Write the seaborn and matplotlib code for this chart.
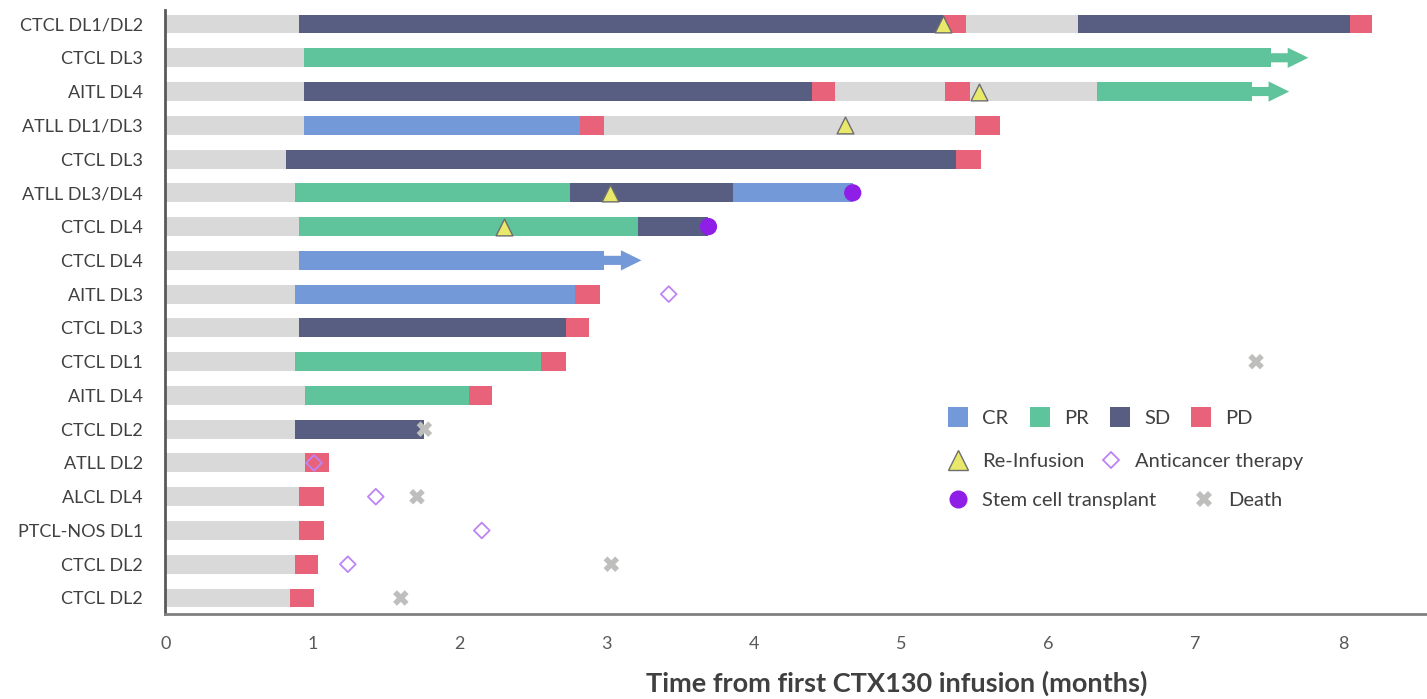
import matplotlib
matplotlib.use("Agg")
import matplotlib.pyplot as plt
from matplotlib.lines import Line2D
import pandas as pd
import seaborn as sns

# ---- data -------------------------------------------------------------
patients = [
    "CTCL DL1/DL2", "CTCL DL3", "AITL DL4", "ATLL DL1/DL3", "CTCL DL3",
    "ATLL DL3/DL4", "CTCL DL4", "CTCL DL4", "AITL DL3", "CTCL DL3",
    "CTCL DL1", "AITL DL4", "CTCL DL2", "ATLL DL2", "ALCL DL4",
    "PTCL-NOS DL1", "CTCL DL2", "CTCL DL2",
]

# response state of each interval ("NE" = not yet assessed / off response)
states = [
    ["NE", "SD", "PD", "NE", "SD", "PD"],
    ["NE", "PR"],
    ["NE", "SD", "PD", "NE", "PD", "NE", "PR"],
    ["NE", "CR", "PD", "NE", "PD"],
    ["NE", "SD", "PD"],
    ["NE", "PR", "SD", "CR"],
    ["NE", "PR", "SD"],
    ["NE", "CR"],
    ["NE", "CR", "PD"],
    ["NE", "SD", "PD"],
    ["NE", "PR", "PD"],
    ["NE", "PR", "PD"],
    ["NE", "SD"],
    ["NE", "PD"],
    ["NE", "PD"],
    ["NE", "PD"],
    ["NE", "PD"],
    ["NE", "PD"],
]

# interval boundaries in months
bounds = [
    [0, 0.91, 5.28, 5.44, 6.20, 8.05, 8.20],
    [0, 0.94, 7.51],
    [0, 0.94, 4.39, 4.55, 5.30, 5.47, 6.33, 7.38],
    [0, 0.94, 2.82, 2.98, 5.50, 5.67],
    [0, 0.82, 5.37, 5.54],
    [0, 0.88, 2.75, 3.86, 4.67],
    [0, 0.91, 3.21, 3.69],
    [0, 0.91, 2.98],
    [0, 0.88, 2.78, 2.95],
    [0, 0.91, 2.72, 2.88],
    [0, 0.88, 2.55, 2.72],
    [0, 0.95, 2.06, 2.22],
    [0, 0.88, 1.76],
    [0, 0.95, 1.11],
    [0, 0.91, 1.08],
    [0, 0.91, 1.08],
    [0, 0.88, 1.04],
    [0, 0.85, 1.01],
]

ongoing_rows = [1, 2, 7]

reinfusion_rows = [0, 2, 3, 5, 6]
reinfusion_months = [5.28, 5.53, 4.62, 3.02, 2.30]

anticancer_rows = [8, 13, 14, 15, 16]
anticancer_months = [3.42, 1.01, 1.43, 2.15, 1.24]

transplant_rows = [5, 6]
transplant_months = [4.67, 3.69]

death_rows = [10, 12, 14, 16, 17]
death_months = [7.41, 1.76, 1.71, 3.03, 1.60]

# ---- styling ----------------------------------------------------------
state_colors = {
    "NE": "#D9D9D9",
    "CR": "#7399D9",
    "PR": "#5FC39B",
    "SD": "#575E82",
    "PD": "#E8637A",
}
tri_color = "#E8E86A"
diamond_color = "#BE84F5"
sct_color = "#8F1FE6"
death_color = "#BEBEBC"
text_dark = "#404040"

sns.set_theme(style="white")
plt.rcParams["font.family"] = ["Lato", "DejaVu Sans"]

W, H = 1427, 699
fig = plt.figure(figsize=(W / 100, H / 100), dpi=100)
ax = fig.add_axes([165.3 / W, 1 - 614 / H, 1 - 165.3 / W, (614 - 10) / H])

# ---- response bars ----------------------------------------------------
rows, starts, widths, cols = [], [], [], []
for i, (st, bd) in enumerate(zip(states, bounds)):
    for k, s in enumerate(st):
        rows.append(i)
        starts.append(bd[k])
        widths.append(bd[k + 1] - bd[k])
        cols.append(state_colors[s])
seg = pd.DataFrame({"row": rows, "start": starts, "width": widths, "color": cols})
ax.barh(seg["row"], seg["width"], left=seg["start"], height=0.56,
        color=seg["color"], linewidth=0, zorder=2)

# ongoing response arrows
for r in ongoing_rows:
    end = bounds[r][-1]
    ax.arrow(end, r, 0.255, 0, width=0.27, head_width=0.6, head_length=0.14,
             length_includes_head=True, color=state_colors[states[r][-1]],
             linewidth=0, zorder=2)

# ---- event markers ----------------------------------------------------
ev_re = pd.DataFrame({"month": reinfusion_months, "row": reinfusion_rows})
ev_ac = pd.DataFrame({"month": anticancer_months, "row": anticancer_rows})
ev_sct = pd.DataFrame({"month": transplant_months, "row": transplant_rows})
ev_death = pd.DataFrame({"month": death_months, "row": death_rows})

sns.scatterplot(data=ev_sct, x="month", y="row", ax=ax, marker="o", s=155,
                color=sct_color, edgecolor="none", zorder=4)
sns.scatterplot(data=ev_re, x="month", y="row", ax=ax, marker="^", s=145,
                color=tri_color, edgecolor="#6E6E6E", linewidth=1.0, zorder=4)
sns.scatterplot(data=ev_ac, x="month", y="row", ax=ax, marker="D", s=64,
                facecolor="none", edgecolor=diamond_color, linewidth=1.3, zorder=4)
sns.scatterplot(data=ev_death, x="month", y="row", ax=ax, marker="X", s=125,
                color=death_color, edgecolor="none", zorder=4)

# ---- axes -------------------------------------------------------------
ax.set_xlim(0, (W - 165.3) / 147.2)
ax.set_ylim(17.474, -0.415)
ax.set_yticks(range(len(patients)))
ax.set_yticklabels(patients)
ax.set_xticks(range(0, 9))
ax.set_ylabel("")
ax.tick_params(axis="y", length=0, pad=16, labelsize=13, labelcolor=text_dark)
ax.tick_params(axis="x", length=0, pad=16, labelsize=13, labelcolor="#595959")

for side in ("top", "right"):
    ax.spines[side].set_visible(False)
ax.spines["left"].set_color("#595959")
ax.spines["left"].set_linewidth(2)
ax.spines["bottom"].set_color("#808080")
ax.spines["bottom"].set_linewidth(2)

ax.set_xlabel("Time from first CTX130 infusion (months)", fontsize=19.5,
              fontweight="bold", color=text_dark)
ax.xaxis.set_label_coords(0.58, -0.094)

# ---- legend -----------------------------------------------------------
def fig_xy(px, py):
    return (px / W, 1 - py / H)

leg_kw = dict(loc="center left", frameon=False, fontsize=14.5, borderpad=0,
              borderaxespad=0, handlelength=1.2, handletextpad=0.6,
              labelcolor=text_dark, bbox_transform=fig.transFigure)

resp_handles = [Line2D([], [], ls="none", marker="s", ms=14.4,
                       color=state_colors[s], markeredgewidth=0)
                for s in ["CR", "PR", "SD", "PD"]]
leg1 = ax.legend(resp_handles, ["CR", "PR", "SD", "PD"], ncol=4,
                 columnspacing=0.95, bbox_to_anchor=fig_xy(946, 418), **leg_kw)
ax.add_artist(leg1)

ev_handles2 = [
    Line2D([], [], ls="none", marker="^", ms=14.5, markerfacecolor=tri_color,
           markeredgecolor="#6E6E6E", markeredgewidth=1.0),
    Line2D([], [], ls="none", marker="D", ms=8, markerfacecolor="none",
           markeredgecolor=diamond_color, markeredgewidth=1.3),
]
leg2 = ax.legend(ev_handles2, ["Re-Infusion", "Anticancer therapy"], ncol=2,
                 columnspacing=0.7, bbox_to_anchor=fig_xy(946, 461), **leg_kw)
ax.add_artist(leg2)

ev_handles3 = [
    Line2D([], [], ls="none", marker="o", ms=13, markerfacecolor=sct_color,
           markeredgewidth=0),
    Line2D([], [], ls="none", marker="X", ms=11, markerfacecolor=death_color,
           markeredgewidth=0),
]
ax.legend(ev_handles3, ["Stem cell transplant", "Death"], ncol=2,
          columnspacing=1.74, bbox_to_anchor=fig_xy(946, 500), **leg_kw)

fig.savefig("out.png", dpi=100)
